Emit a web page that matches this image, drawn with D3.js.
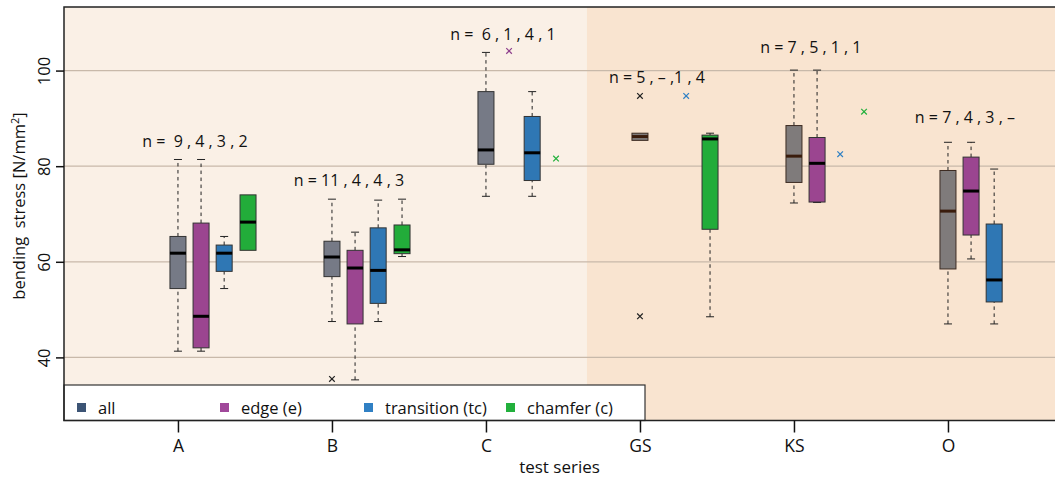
<!DOCTYPE html>
<html>
<head>
<meta charset="utf-8">
<script src="https://cdn.jsdelivr.net/npm/d3@7"></script>
<style>
  body { margin: 0; background: #fff; }
  svg { display: block; font-family: "Open Sans", "Noto Sans", sans-serif; }
</style>
</head>
<body>
<div id="chart"></div>
<script>
// Boxplots de la contrainte de flexion par série d'essai

const categories = ["A", "B", "C", "GS", "KS", "O"];
const seriesNames = ["all", "edge (e)", "transition (tc)", "chamfer (c)"];
const yTicks = [40, 60, 80, 100];

// [whisker bas, Q1, médiane, Q3, whisker haut] par catégorie, null = pas de boîte
const allStats = [
    [41.3, 54.4, 61.8, 65.3, 81.4],
    [47.5, 56.9, 61.0, 64.3, 73.1],
    [73.7, 80.4, 83.4, 95.6, 103.8],
    [85.4, 85.4, 86.2, 86.9, 86.9],
    [72.3, 76.6, 82.1, 88.5, 100.1],
    [47.0, 58.5, 70.6, 79.1, 85.0]
];
const edgeStats = [
    [41.3, 42.0, 48.6, 68.1, 81.4],
    [35.3, 47.0, 58.7, 62.4, 66.2],
    null,
    null,
    [72.4, 72.5, 80.6, 86.0, 100.1],
    [60.6, 65.6, 74.8, 81.9, 85.0]
];
const transitionStats = [
    [54.4, 58.0, 61.8, 63.5, 65.3],
    [47.5, 51.3, 58.2, 67.1, 72.9],
    [73.7, 77.0, 82.8, 90.4, 95.6],
    null,
    null,
    [47.0, 51.6, 56.2, 67.9, 79.4]
];
const chamferStats = [
    [62.4, 62.4, 68.3, 74.0, 74.0],
    [61.1, 61.7, 62.5, 67.7, 73.1],
    null,
    [48.5, 66.8, 85.7, 86.5, 86.9],
    null,
    null
];

// valeurs isolées (catégorie, valeur)
const allOutliers = [["B", 35.5], ["GS", 94.7], ["GS", 48.6]];
const edgeOutliers = [["C", 104.1]];
const transitionOutliers = [["GS", 94.7], ["KS", 82.5]];
const chamferOutliers = [["C", 81.6], ["KS", 91.4]];

// effectifs et hauteur (en N/mm²) des annotations
const nLabels = [
    "n =  9 , 4 , 3 , 2",
    "n = 11 , 4 , 4 , 3",
    "n =  6 , 1 , 4 , 1",
    "n = 5 , – ,1 , 4",
    "n = 7 , 5 , 1 , 1",
    "n = 7 , 4 , 3 , –"
];
const nLabelY = [84.0, 75.9, 106.4, 97.3, 103.7, 89.0];

function createChart() {
    const W = 1055, H = 477;
    const left = 64, top = 7, right = 1056, bottom = 420.5;

    const svg = d3.select("#chart").append("svg")
        .attr("width", W)
        .attr("height", H);

    const x = d3.scaleLinear().domain([0.26, 6.695]).range([left, 1055]);
    const y = d3.scaleLinear().domain([26.8, 113.3]).range([bottom, top]);

    const offsets = [0, 0.15, 0.30, 0.455];
    const boxW = 16;
    const split = 3.655; // début de la zone foncée

    const series = [
        { stats: allStats, outliers: allOutliers, fill: "#767a86", fill2: "#7f7b7b", legend: "#3c5475", mark: "#222" },
        { stats: edgeStats, outliers: edgeOutliers, fill: "#9b4590", fill2: "#9b4590", legend: "#a0489a", mark: "#8e3f8c" },
        { stats: transitionStats, outliers: transitionOutliers, fill: "#2f77b4", fill2: "#2f77b4", legend: "#3080c4", mark: "#3080c4" },
        { stats: chamferStats, outliers: chamferOutliers, fill: "#22ac3a", fill2: "#22ac3a", legend: "#22b03c", mark: "#22b03c" }
    ];

    // Fonds
    svg.append("rect")
        .attr("x", left).attr("y", top)
        .attr("width", x(split) - left).attr("height", bottom - top)
        .attr("fill", "#faf0e6");
    svg.append("rect")
        .attr("x", x(split)).attr("y", top)
        .attr("width", right - x(split)).attr("height", bottom - top)
        .attr("fill", "#f9e4d0");

    // Grille
    svg.append("g")
        .selectAll("line")
        .data(yTicks)
        .enter().append("line")
        .attr("x1", left).attr("x2", right)
        .attr("y1", d => y(d)).attr("y2", d => y(d))
        .attr("stroke", "#c8b9aa")
        .attr("stroke-width", 1.2);

    // Boîtes
    series.forEach((s, si) => {
        const g = svg.append("g");
        s.stats.forEach((st, ci) => {
            if (!st) return;
            const cx = x(ci + 1 + offsets[si]);
            const [lo, q1, med, q3, hi] = st;
            const dark = ci + 1 > split;

            // moustaches
            [[lo, q1], [q3, hi]].forEach(([a, b]) => {
                if (Math.abs(a - b) < 0.05) return;
                g.append("line")
                    .attr("x1", cx).attr("x2", cx)
                    .attr("y1", y(a)).attr("y2", y(b))
                    .attr("stroke", "#222")
                    .attr("stroke-width", 1)
                    .attr("stroke-dasharray", "3.5,3.5");
            });
            [lo, hi].forEach(v => {
                if (v === q1 || v === q3) return;
                g.append("line")
                    .attr("x1", cx - 4).attr("x2", cx + 4)
                    .attr("y1", y(v)).attr("y2", y(v))
                    .attr("stroke", "#222")
                    .attr("stroke-width", 1);
            });

            g.append("rect")
                .attr("x", cx - boxW / 2)
                .attr("y", y(q3))
                .attr("width", boxW)
                .attr("height", y(q1) - y(q3))
                .attr("fill", dark ? s.fill2 : s.fill)
                .attr("stroke", si === 0 && dark ? "#3d2b22" : "#333")
                .attr("stroke-width", 1);

            g.append("line")
                .attr("x1", cx - boxW / 2).attr("x2", cx + boxW / 2)
                .attr("y1", y(med)).attr("y2", y(med))
                .attr("stroke", si === 0 && dark ? "#3a1c0c" : "#000")
                .attr("stroke-width", 3);
        });

        // valeurs isolées (croix)
        const r = 2.8;
        g.selectAll(".outlier")
            .data(s.outliers)
            .enter().append("path")
            .attr("class", "outlier")
            .attr("d", d => {
                const px = x(categories.indexOf(d[0]) + 1 + offsets[si]);
                const py = y(d[1]);
                return `M${px - r},${py - r}L${px + r},${py + r}M${px + r},${py - r}L${px - r},${py + r}`;
            })
            .attr("stroke", s.mark)
            .attr("stroke-width", 1.2)
            .attr("fill", "none");
    });

    // Annotations n = ...
    svg.append("g")
        .selectAll("text")
        .data(categories)
        .enter().append("text")
        .attr("x", (d, i) => x(i + 1 + 0.11))
        .attr("y", (d, i) => y(nLabelY[i]))
        .attr("text-anchor", "middle")
        .attr("fill", "#111")
        .style("font-size", "16px")
        .style("white-space", "pre")
        .attr("xml:space", "preserve")
        .text((d, i) => nLabels[i]);

    // Légende
    const legend = svg.append("g").attr("class", "legend");
    legend.append("rect")
        .attr("x", left).attr("y", 385)
        .attr("width", 645 - left).attr("height", bottom - 385)
        .attr("fill", "#fff")
        .attr("stroke", "#333")
        .attr("stroke-width", 1.2);
    const legendX = [77, 220, 364, 506];
    seriesNames.forEach((name, i) => {
        legend.append("rect")
            .attr("x", legendX[i]).attr("y", 403)
            .attr("width", 9).attr("height", 9)
            .attr("fill", series[i].legend);
        legend.append("text")
            .attr("x", legendX[i] + 21).attr("y", 414)
            .attr("fill", "#111")
            .style("font-size", "16.5px")
            .text(name);
    });

    // Cadre
    svg.append("path")
        .attr("d", `M${right},${top}H${left}V${bottom}H${right}`)
        .attr("fill", "none")
        .attr("stroke", "#222")
        .attr("stroke-width", 1.5);

    // Axe x
    const xAxis = svg.append("g")
        .attr("transform", `translate(0,${bottom})`)
        .call(d3.axisBottom(x)
            .tickValues(d3.range(1, categories.length + 1))
            .tickFormat(d => categories[d - 1])
            .tickSize(12));
    xAxis.select(".domain").remove();
    xAxis.selectAll(".tick line").attr("stroke", "#111").attr("stroke-width", 1.5);
    xAxis.selectAll(".tick text")
        .attr("y", 31)
        .attr("dy", 0)
        .attr("fill", "#111")
        .style("font-size", "17.5px")
        .style("font-family", "'Open Sans', sans-serif");

    // Axe y
    const yAxis = svg.append("g")
        .attr("transform", `translate(${left},0)`)
        .call(d3.axisLeft(y).tickValues(yTicks).tickSize(8));
    yAxis.select(".domain").remove();
    yAxis.selectAll(".tick line").attr("stroke", "#111").attr("stroke-width", 1.5);
    yAxis.selectAll(".tick text")
        .attr("x", 0).attr("y", 0).attr("dy", 0)
        .attr("transform", "translate(-14,0) rotate(-90)")
        .attr("text-anchor", "middle")
        .attr("fill", "#111")
        .style("font-size", "16.5px")
        .style("font-family", "'Open Sans', sans-serif");

    // Titres des axes
    svg.append("text")
        .attr("x", (left + 1055) / 2)
        .attr("y", 473)
        .attr("text-anchor", "middle")
        .attr("fill", "#111")
        .style("font-size", "17px")
        .text("test series");

    const yl = svg.append("text")
        .attr("transform", `translate(25,206) rotate(-90)`)
        .attr("text-anchor", "middle")
        .attr("fill", "#111")
        .style("font-size", "16.5px")
        .attr("xml:space", "preserve");
    yl.append("tspan").text("bending  stress [N/mm");
    yl.append("tspan").attr("dy", -6).style("font-size", "11px").text("2");
    yl.append("tspan").attr("dy", 6).text("]");
}

createChart();
</script>
</body>
</html>
